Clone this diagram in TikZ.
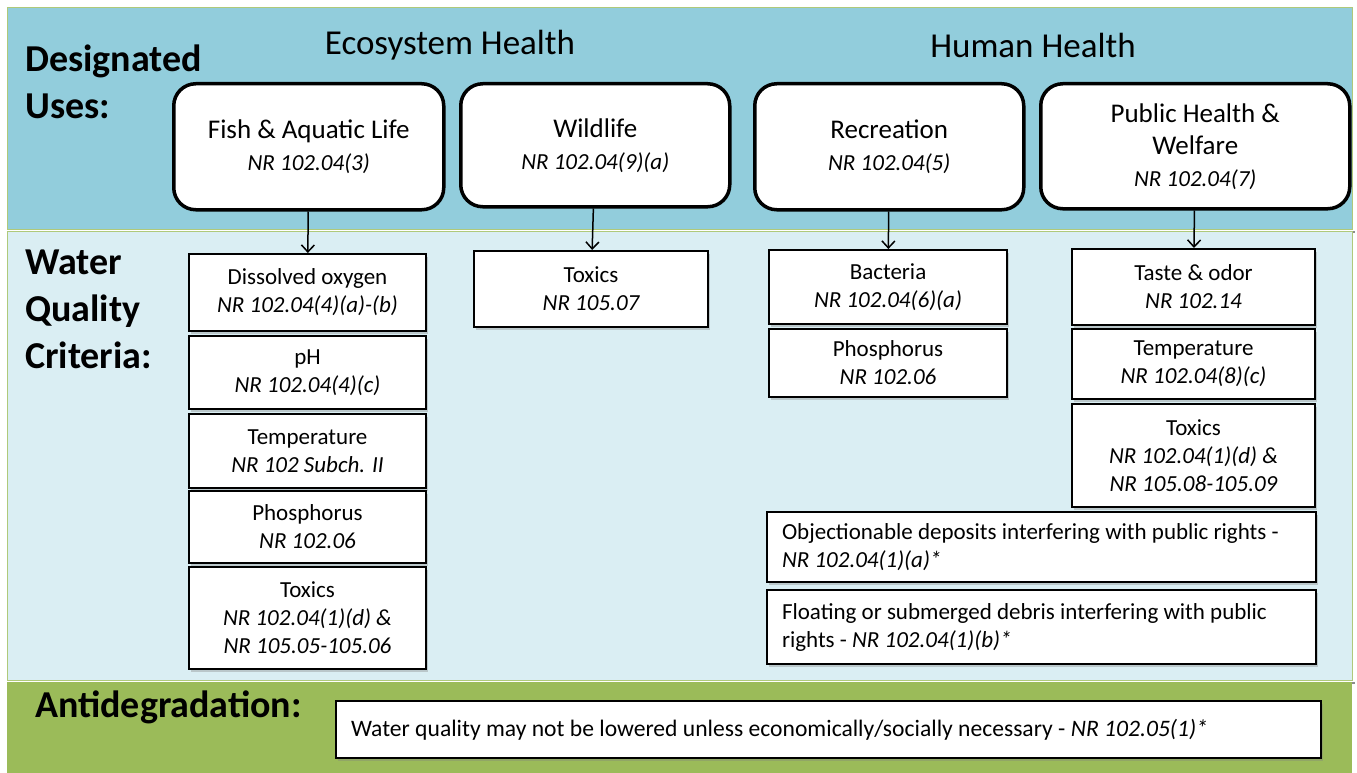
\documentclass[tikz,border=0pt]{standalone}
\usepackage{fontspec}
\setmainfont{Carlito}
\usetikzlibrary{arrows.meta,shadows}

\definecolor{topblue}{RGB}{146,205,220}
\definecolor{midblue}{RGB}{218,238,243}
\definecolor{bandgreen}{RGB}{155,187,89}

\newcommand{\nrbig}[1]{{\fontsize{23}{31}\selectfont\itshape #1}}
\newcommand{\nr}[1]{{\itshape #1}}

\tikzset{
  band/.style={draw=bandgreen!80, line width=1pt},
  usebox/.style={draw=black, line width=3.5pt, rounded corners=22pt, fill=white,
    align=center, anchor=north west, font=\fontsize{27}{32}\selectfont},
  critbox/.style={draw=black, line width=2pt, fill=white, align=center,
    anchor=north west, inner ysep=3pt, font=\fontsize{23}{28}\selectfont,
    drop shadow={shadow xshift=2pt, shadow yshift=-2.5pt, opacity=0.35}},
  widebox/.style={critbox, align=flush left, inner xsep=15pt},
  rowlabel/.style={anchor=north west, align=left, inner sep=0pt,
    font=\fontsize{38}{47}\bfseries\selectfont},
  grouplabel/.style={font=\fontsize{35}{40}\selectfont},
  feeds/.style={line width=1.5pt, -{Straight Barb[length=7pt,width=13pt]}},
}

\begin{document}
\begin{tikzpicture}[x=1pt,y=-1pt]
        \useasboundingbox (0,0) rectangle (1357,773);

        % bands
        \fill[black!45] (9,231) rectangle (1355,233);
        \fill[black!45] (9,682) rectangle (1355,684);
        \draw[band, fill=topblue] (7,8) rectangle (1352,229);
        \draw[band, fill=midblue] (7,231) rectangle (1352,680);
        \fill[bandgreen] (7,682) rectangle (1352,773);

        \node[rowlabel] (DU) at (25,45) {Designated\\Uses:};
        \node[rowlabel] (WQ) at (25,250) {Water\\Quality\\Criteria:};
        \node[rowlabel, anchor=west] (AD) at (35,707) {Antidegradation:};

        \node[grouplabel] (EH) at (450,45) {Ecosystem Health};
        \node[grouplabel] (HH) at (1033,45) {Human Health};

        % designated uses
        \node[usebox, minimum width=270, minimum height=126] (fish) at (172,82)
            {Fish \& Aquatic Life\\\nrbig{NR 102.04(3)}};
        \node[usebox, minimum width=269, minimum height=123] (wild) at (459,82)
            {Wildlife\\\nrbig{NR 102.04(9)(a)}};
        \node[usebox, minimum width=269, minimum height=126] (recr) at (753,82)
            {Recreation\\\nrbig{NR 102.04(5)}};
        \node[usebox, minimum width=309, minimum height=125] (pubh) at (1039,82)
            {Public Health \&\\Welfare\\\nrbig{NR 102.04(7)}};

        % criteria
        \node[critbox, minimum width=237, minimum height=77] (doxy) at (188,253)
            {Dissolved oxygen\\\nr{NR 102.04(4)(a)-(b)}};
        \node[critbox, minimum width=237, minimum height=73] (ph) at (188,335)
            {pH\\\nr{NR 102.04(4)(c)}};
        \node[critbox, minimum width=237, minimum height=74] (tempf) at (188,413)
            {Temperature\\\nr{NR 102 Subch. II}};
        \node[critbox, minimum width=237, minimum height=72] (phosf) at (188,490)
            {Phosphorus\\\nr{NR 102.06}};
        \node[critbox, minimum width=237, minimum height=102] (toxf) at (188,566)
            {Toxics\\\nr{NR 102.04(1)(d) \&}\\\nr{NR 105.05-105.06}};

        \node[critbox, minimum width=234, minimum height=76] (toxw) at (473,250)
            {Toxics\\\nr{NR 105.07}};

        \node[critbox, minimum width=238, minimum height=74] (bact) at (768,249)
            {Bacteria\\\nr{NR 102.04(6)(a)}};
        \node[critbox, minimum width=238, minimum height=68] (phosr) at (768,328)
            {Phosphorus\\\nr{NR 102.06}};

        \node[critbox, minimum width=243, minimum height=76] (taste) at (1071,248)
            {Taste \& odor\\\nr{NR 102.14}};
        \node[critbox, minimum width=243, minimum height=70] (tempp) at (1071,328)
            {Temperature\\\nr{NR 102.04(8)(c)}};
        \node[critbox, minimum width=243, minimum height=103] (toxp) at (1071,403)
            {Toxics\\\nr{NR 102.04(1)(d) \&}\\\nr{NR 105.08-105.09}};

        \node[widebox, text width=519, minimum height=70] (depos) at (766,511)
            {Objectionable deposits interfering with public rights -\\\nr{NR 102.04(1)(a)*}};
        \node[widebox, text width=519, minimum height=74] (debris) at (766,589)
            {Floating or submerged debris interfering with public\\rights - \nr{NR 102.04(1)(b)*}};

        % antidegradation
        \node[widebox, text width=955, minimum height=57, font=\fontsize{23.6}{27}\selectfont] (antid) at (335,700)
            {Water quality may not be lowered unless economically/socially necessary - \nr{NR 102.05(1)*}};

        \draw[feeds] (fish) -- (doxy);
        \draw[feeds] (wild) -- (toxw);
        \draw[feeds] (recr) -- (bact);
        \draw[feeds] (pubh) -- (taste);
    \end{tikzpicture}
\end{document}
